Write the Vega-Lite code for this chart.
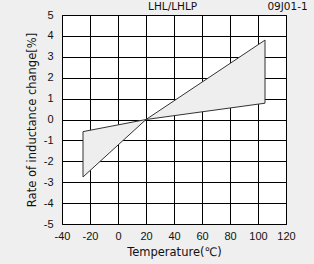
{
  "$schema": "https://vega.github.io/schema/vega-lite/v6.json",
  "autosize": "none",
  "width": 224,
  "height": 209,
  "padding": {"left": 62, "top": 15, "right": 28, "bottom": 40},
  "background": "#efefef",
  "config": {
    "view": {"fill": "white", "stroke": "black", "strokeWidth": 1},
    "axis": {"labelFont": "Liberation Sans", "titleFont": "DejaVu Sans", "labelFontSize": 11, "titleFontSize": 11.5, "titleFontWeight": "normal", "labelColor": "#111", "titleColor": "#111", "grid": true, "gridColor": "black", "gridOpacity": 1, "gridWidth": 1, "ticks": false, "domain": false, "labelOverlap": false, "labelFlush": false}
  },
  "layer": [
    {
      "data": {"values": [
        {"temp": -25, "low": -2.75, "high": -0.58},
        {"temp": 20, "low": 0, "high": 0},
        {"temp": 105, "low": 0.78, "high": 3.8}
      ]},
      "mark": {"type": "area", "fill": "#eeeeee", "stroke": "#333333", "strokeWidth": 1},
      "encoding": {
        "x": {"field": "temp", "type": "quantitative", "scale": {"domain": [-40, 120], "nice": false}, "axis": {"values": [-40, -20, 0, 20, 40, 60, 80, 100, 120], "labelExpr": "datum.value + ''", "labelPadding": 6, "title": "Temperature(℃)", "titlePadding": 5}},
        "y": {"field": "low", "type": "quantitative", "scale": {"domain": [-5, 5], "nice": false}, "axis": {"values": [-5, -4, -3, -2, -1, 0, 1, 2, 3, 4, 5], "labelExpr": "datum.value + ''", "labelPadding": 9, "title": "Rate of inductance change[%]", "titlePadding": 6}},
        "y2": {"field": "high"}
      }
    },
    {
      "data": {"values": [{"label": "LHL/LHLP", "temp": 39, "low": 5.38}]},
      "mark": {"type": "text", "align": "center", "baseline": "middle", "font": "DejaVu Sans", "fontSize": 10.5, "color": "#111", "clip": false},
      "encoding": {
        "x": {"field": "temp", "type": "quantitative", "axis": {"values": [-40, -20, 0, 20, 40, 60, 80, 100, 120], "labelExpr": "datum.value + ''", "labelPadding": 6, "title": "Temperature(℃)", "titlePadding": 5}},
        "y": {"field": "low", "type": "quantitative", "axis": {"values": [-5, -4, -3, -2, -1, 0, 1, 2, 3, 4, 5], "labelExpr": "datum.value + ''", "labelPadding": 9, "title": "Rate of inductance change[%]", "titlePadding": 6}},
        "text": {"field": "label"}
      }
    },
    {
      "data": {"values": [{"label": "09J01-1", "temp": 135.5, "low": 5.38}]},
      "mark": {"type": "text", "align": "right", "baseline": "middle", "font": "DejaVu Sans", "fontSize": 10.5, "color": "#111", "clip": false},
      "encoding": {
        "x": {"field": "temp", "type": "quantitative", "axis": {"values": [-40, -20, 0, 20, 40, 60, 80, 100, 120], "labelExpr": "datum.value + ''", "labelPadding": 6, "title": "Temperature(℃)", "titlePadding": 5}},
        "y": {"field": "low", "type": "quantitative", "axis": {"values": [-5, -4, -3, -2, -1, 0, 1, 2, 3, 4, 5], "labelExpr": "datum.value + ''", "labelPadding": 9, "title": "Rate of inductance change[%]", "titlePadding": 6}},
        "text": {"field": "label"}
      }
    }
  ]
}
